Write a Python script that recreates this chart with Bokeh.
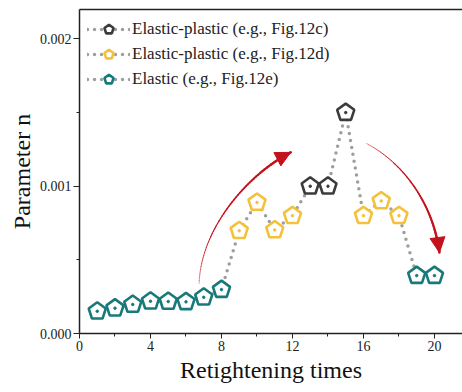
import numpy as np
from bokeh.plotting import figure
from bokeh.models import (ColumnDataSource, FixedTicker, PrintfTickFormatter, Legend, LegendItem,
                          LinearAxis, Arrow, NormalHead, Range1d)
from bokeh.embed import file_html
from bokeh.resources import INLINE

# ---- data ----
retightening = list(range(1, 21))
param_n = [0.000151, 0.000172, 0.000197, 0.000219, 0.000217, 0.000215, 0.000246, 0.000298,
           0.000698, 0.000890, 0.000703, 0.000800, 0.001000, 0.001000, 0.001500,
           0.000800, 0.000900, 0.000800, 0.000393, 0.000393]
state = ["E"] * 8 + ["D", "D", "D", "D", "C", "C", "C", "D", "D", "D", "E", "E"]

series_keys = ["C", "D", "E"]
series_labels = ["Elastic-plastic (e.g., Fig.12c)",
                 "Elastic-plastic (e.g., Fig.12d)",
                 "Elastic (e.g., Fig.12e)"]
series_colors = ["#3b3b3b", "#f3c13a", "#18797a"]

x_ticks = [0, 4, 8, 12, 16, 20]
x_minor = [2, 6, 10, 14, 18]
y_ticks = [0.0, 0.001, 0.002]
y_minor = [0.0005, 0.0015]

# curved trend arrows: (start, control0, control1, end)
arrow_curves = [
    [(6.74, 0.00034), (6.85, 0.00072), (9.5, 0.00108), (11.9, 0.00123)],
    [(16.17, 0.00129), (18.1, 0.00117), (19.9, 0.00090), (20.28, 0.00055)],
]
arrow_color = "#c4121c"

FONT = "Liberation Serif"

p = figure(width=462, height=392, output_backend="svg", toolbar_location=None,
           x_range=Range1d(0, 21.58), y_range=Range1d(0, 0.0022),
           min_border_left=79, min_border_right=0, min_border_top=9, min_border_bottom=59)
p.outline_line_color = None
p.xgrid.visible = False
p.ygrid.visible = False
p.background_fill_color = "white"

xax = p.below[0]
yax = p.left[0]
for ax in (xax, yax):
    ax.axis_line_width = 1.5
    ax.axis_line_color = "#222222"
    ax.major_tick_line_color = "#222222"
    ax.minor_tick_line_color = "#222222"
    ax.major_tick_in = 0
    ax.major_tick_out = 6
    ax.minor_tick_in = 0
    ax.minor_tick_out = 3
    ax.major_label_text_font = FONT
    ax.major_label_text_font_size = "14px"
    ax.major_label_text_color = "#222222"
    ax.axis_label_text_font = FONT
    ax.axis_label_text_font_style = "normal"
    ax.axis_label_text_font_size = "24px"
    ax.axis_label_text_color = "#111111"

xax.ticker = FixedTicker(ticks=x_ticks, minor_ticks=x_minor)
yax.ticker = FixedTicker(ticks=y_ticks, minor_ticks=y_minor)
yax.formatter = PrintfTickFormatter(format="%.3f")
xax.axis_label = "Retightening times"
yax.axis_label = "Parameter n"
xax.major_tick_out = 5
xax.major_label_standoff = 2
yax.major_label_standoff = 2
xax.axis_label_standoff = 3
yax.axis_label_standoff = 2

# top border line
top = LinearAxis(ticker=FixedTicker(ticks=[]), major_label_text_font_size="0px",
                 major_tick_out=0, minor_tick_out=0, axis_line_width=1.5, axis_line_color="#222222")
p.add_layout(top, "above")

# arrows (tapered curves)
t = np.linspace(0, 1, 60)
for (p0, c0, c1, p3) in arrow_curves:
    P = [np.array(v) for v in (p0, c0, c1, p3)]
    bx = ((1 - t) ** 3)[:, None] * P[0] + (3 * (1 - t) ** 2 * t)[:, None] * P[1] + \
         (3 * (1 - t) * t ** 2)[:, None] * P[2] + (t ** 3)[:, None] * P[3]
    widths = np.linspace(0.4, 2.6, len(t) - 1)
    p.segment(x0=bx[:-1, 0], y0=bx[:-1, 1], x1=bx[1:, 0], y1=bx[1:, 1],
              line_color=arrow_color, line_width=widths, line_cap="round")
    d = P[3] - P[2]
    start = P[3] - 0.08 * d
    p.add_layout(Arrow(end=NormalHead(size=15, fill_color=arrow_color, line_color=arrow_color, line_width=1),
                       x_start=start[0], y_start=start[1], x_end=P[3][0], y_end=P[3][1],
                       line_color=arrow_color, line_width=0))

# dotted connecting line
line_r = p.line(retightening, param_n, line_color="#9e9e9e", line_width=3.5,
                line_dash="0 7", line_cap="round")

items = []
for key, label, color in zip(series_keys, series_labels, series_colors):
    xs = [x for x, s in zip(retightening, state) if s == key]
    ys = [y for y, s in zip(param_n, state) if s == key]
    src = ColumnDataSource(dict(x=xs, y=ys))
    ng = p.ngon(x="x", y="y", radius=9, radius_units="screen", n=5, angle=0,
                source=src, fill_color="white", line_color=color, line_width=2.6)
    dot = p.scatter(x="x", y="y", source=src, size=2.5, marker="circle",
                    fill_color=color, line_color=color)
    items.append(LegendItem(label=label, renderers=[line_r, ng]))

legend = Legend(items=items, location="top_left", margin=8, padding=1, spacing=1,
                glyph_width=43, glyph_height=24, label_height=24, label_standoff=2,
                label_text_font=FONT, label_text_font_size="17px", label_text_color="#222222",
                background_fill_alpha=0, border_line_color=None)
p.add_layout(legend, "center")

open("out.html", "w").write(file_html(p, INLINE))
